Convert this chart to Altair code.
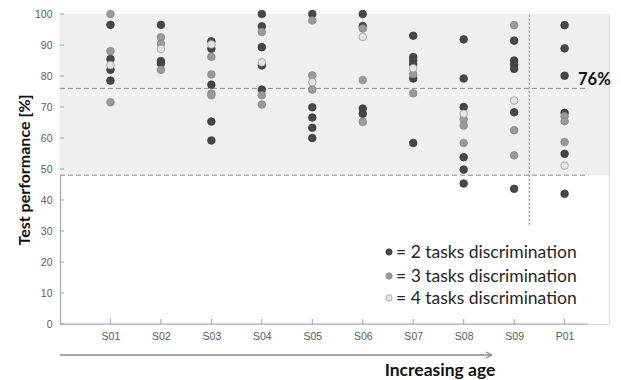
import altair as alt
import pandas as pd

# ---------------- data ----------------
subjects = ["S01", "S02", "S03", "S04", "S05", "S06", "S07", "S08", "S09", "P01"]
series_names = ["2 tasks discrimination", "3 tasks discrimination", "4 tasks discrimination"]

tasks2 = [
    [96.5, 85.5, 82.0, 78.5],
    [96.5, 84.8, 84.0],
    [91.2, 88.8, 77.2, 65.3, 59.2],
    [100.0, 96.0, 89.3, 83.4, 75.6],
    [100.0, 69.9, 66.6, 63.3, 60.0],
    [100.0, 96.1, 69.5, 67.8],
    [93.0, 86.1, 85.0, 83.8, 79.2, 58.4],
    [91.8, 79.2, 70.0, 53.8, 49.8, 45.3],
    [91.4, 85.0, 83.7, 82.3, 68.3, 43.6],
    [96.4, 88.9, 80.1, 68.1, 54.9, 42.0],
]
tasks3 = [
    [100.0, 88.0, 71.5],
    [92.5, 90.4, 82.0],
    [86.2, 80.5, 74.3, 73.8],
    [94.2, 73.8, 70.8],
    [97.9, 80.2, 75.6],
    [95.3, 78.7, 65.2],
    [80.6, 74.4],
    [66.0, 64.0, 58.4],
    [96.4, 62.5, 54.4],
    [67.0, 65.4, 58.7],
]
tasks4 = [
    [83.5],
    [88.7],
    [90.2],
    [84.4],
    [78.0],
    [92.6],
    [82.5],
    [67.8],
    [72.1],
    [51.1],
]
upper_line = 76
lower_line = 48
y_ticks = [0, 10, 20, 30, 40, 50, 60, 70, 80, 90, 100]

# ---------------- build table ----------------
rows = []
for k, (name, series) in enumerate(zip(series_names, [tasks2, tasks3, tasks4])):
    for j, subj in enumerate(subjects):
        for v in series[j]:
            rows.append({"idx": j + 1, "subject": subj, "value": v,
                         "series": name, "order": k})
df = pd.DataFrame(rows)

fills = ["#474747", "#9a9a9a", "#e4e4e4"]
strokes = ["#3a3a3a", "#858585", "#9c9c9c"]

XMAX = 10.88   # right edge of the grey band
XAX = 10.47    # end of the x axis line

xs = alt.Scale(domain=[0, XMAX], nice=False, zero=False)
ys = alt.Scale(domain=[0, 100], nice=False)

x_axis = alt.Axis(values=list(range(1, len(subjects) + 1)),
                  labelExpr="[" + ",".join("'%s'" % s for s in subjects) + "][datum.value - 1]",
                  title=None, ticks=False, domain=False, grid=False, labelOverlap=False,
                  labelFont="Liberation Sans", labelFontSize=10.5,
                  labelColor="#5a5a5a", labelPadding=7)
y_axis = alt.Axis(values=y_ticks, title=None, ticks=False, grid=False, labelOverlap=False,
                  domainColor="#a8a8a8", domainWidth=1.2,
                  labelFont="Liberation Sans", labelFontSize=10.5,
                  labelColor="#5a5a5a", labelPadding=8)


def X(field=None, datum=None):
    if field is not None:
        return alt.X(field, scale=xs, axis=x_axis)
    return alt.X(datum=datum, scale=xs, axis=x_axis)


def Y(field=None, datum=None):
    if field is not None:
        return alt.Y(field, scale=ys, axis=y_axis)
    return alt.Y(datum=datum, scale=ys, axis=y_axis)


one = alt.Data(values=[{}])

points = alt.Chart(df).mark_circle(size=58, strokeWidth=0.8, opacity=1).encode(
    x=X("idx:Q"),
    y=Y("value:Q"),
    fill=alt.Fill("series:N", scale=alt.Scale(domain=series_names, range=fills), legend=None),
    stroke=alt.Stroke("series:N", scale=alt.Scale(domain=series_names, range=strokes), legend=None),
    order=alt.Order("order:Q"),
)

band = alt.Chart(one).mark_rect(color="#efefef").encode(
    x=X(datum=0), x2=alt.datum(XMAX),
    y=Y(datum=lower_line), y2=alt.datum(100),
)

hlines = alt.Chart(pd.DataFrame({"v": [upper_line, lower_line]})).mark_rule(
    color="#8c8c8c", strokeDash=[5, 3], strokeWidth=1
).encode(
    x=X(datum=0), x2=alt.datum(XAX), y=Y("v:Q"),
)

vline = alt.Chart(one).mark_rule(color="#8c8c8c", strokeDash=[2, 2], strokeWidth=1.2).encode(
    x=X(datum=9.3), y=Y(datum=32), y2=alt.datum(100),
)

xaxis_line = alt.Chart(one).mark_rule(color="#a8a8a8", strokeWidth=1.2).encode(
    x=X(datum=0), x2=alt.datum(XAX), y=Y(datum=0),
)

yticks = alt.Chart(pd.DataFrame({"t": y_ticks})).mark_rule(color="#a0a0a0").encode(
    x=alt.value(0), x2=alt.value(4), y=Y("t:Q"),
)
xticks = alt.Chart(pd.DataFrame({"i": list(range(1, len(subjects) + 1))})).mark_rule(
    color="#a0a0a0").encode(
    x=X("i:Q"), y=alt.value(310), y2=alt.value(305),
)

# custom legend
legend_layers = []
leg_y = [238, 262, 284]
for k, name in enumerate(series_names):
    legend_layers.append(alt.Chart(one).mark_circle(
        size=40, fill=fills[k], stroke=strokes[k], strokeWidth=0.8, opacity=1).encode(
        x=alt.value(329), y=alt.value(leg_y[k])))
    legend_layers.append(alt.Chart(one).mark_text(
        align="left", baseline="middle", font="Lato", fontSize=17.5, color="#262626").encode(
        x=alt.value(336), y=alt.value(leg_y[k] + 1), text=alt.value("= " + name)))

pct = alt.Chart(one).mark_text(align="left", baseline="middle", font="Lato",
                               fontWeight="bold", fontSize=16.5, color="#111111").encode(
    x=alt.value(518), y=alt.value(66), text=alt.value("%d%%" % upper_line))

ytitle = alt.Chart(one).mark_text(angle=270, align="center", baseline="middle", font="Lato",
                                  fontWeight="bold", fontSize=16, color="#111111").encode(
    x=alt.value(-35), y=alt.value(156), text=alt.value("Test performance [%]"))

arrow_line = alt.Chart(one).mark_rule(color="#8a8a8a", strokeWidth=1.5).encode(
    x=alt.value(0), x2=alt.value(432), y=alt.value(341))
arrow_a = alt.Chart(one).mark_rule(color="#8a8a8a", strokeWidth=1.2).encode(
    x=alt.value(426), x2=alt.value(432), y=alt.value(338), y2=alt.value(341))
arrow_b = alt.Chart(one).mark_rule(color="#8a8a8a", strokeWidth=1.2).encode(
    x=alt.value(426), x2=alt.value(432), y=alt.value(344), y2=alt.value(341))
xtitle = alt.Chart(one).mark_text(align="center", baseline="middle", font="Lato",
                                  fontWeight="bold", fontSize=17.5, color="#111111").encode(
    x=alt.value(380), y=alt.value(357), text=alt.value("Increasing age"))

chart = alt.layer(
    band, hlines, vline, xaxis_line, yticks, xticks, points,
    *legend_layers, pct, ytitle, arrow_line, arrow_a, arrow_b, xtitle,
).properties(
    width=549, height=310,
    padding={"left": 52, "top": 6, "right": 4, "bottom": 58},
    autosize=alt.AutoSizeParams(type="none"),
).configure_view(stroke=None).configure(background="white")

chart.save("out.html", embed_options={"renderer": "svg", "actions": False})
